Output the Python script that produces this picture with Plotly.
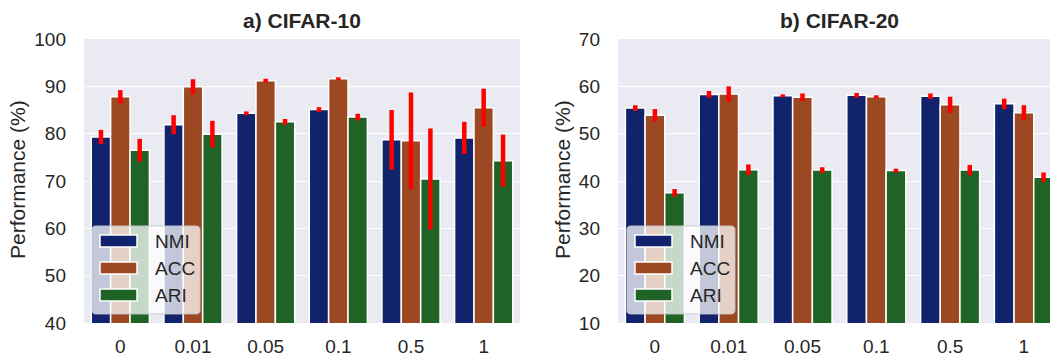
import plotly.graph_objects as go

# ---- data -------------------------------------------------------------
lambdas = ["0", "0.01", "0.05", "0.1", "0.5", "1"]
metrics = ["NMI", "ACC", "ARI"]

c10_nmi = [79.3, 81.9, 84.3, 85.1, 78.7, 79.1]
c10_acc = [87.8, 89.9, 91.2, 91.6, 78.5, 85.5]
c10_ari = [76.5, 79.9, 82.5, 83.5, 70.4, 74.3]
c10_nmi_err = [1.5, 2.0, 0.4, 0.5, 6.3, 3.4]
c10_acc_err = [1.4, 1.6, 0.4, 0.3, 10.2, 4.0]
c10_ari_err = [2.4, 2.8, 0.6, 0.7, 10.7, 5.5]

c20_nmi = [55.4, 58.3, 58.0, 58.1, 57.9, 56.3]
c20_acc = [53.9, 58.4, 57.7, 57.8, 56.1, 54.4]
c20_ari = [37.5, 42.4, 42.3, 42.2, 42.3, 40.8]
c20_nmi_err = [0.6, 0.7, 0.3, 0.5, 0.6, 1.1]
c20_acc_err = [1.3, 1.6, 0.8, 0.3, 1.7, 1.6]
c20_ari_err = [0.8, 1.1, 0.6, 0.4, 1.1, 1.0]

titles = ["a) CIFAR-10", "b) CIFAR-20"]
y_title = "Performance (%)"

# ---- style ------------------------------------------------------------
W, H = 1050, 356
colors = {"NMI": "#12236e", "ACC": "#9c4822", "ARI": "#1f6426"}
TXT = "#262626"
FONT = "Liberation Sans, Arial, sans-serif"
BG = "#eaeaf2"


def px(x):
    return x / W


def py(y):
    return 1 - y / H


fig = go.Figure()

panels = [
    ("x", "y", [c10_nmi, c10_acc, c10_ari], [c10_nmi_err, c10_acc_err, c10_ari_err]),
    ("x2", "y2", [c20_nmi, c20_acc, c20_ari], [c20_nmi_err, c20_acc_err, c20_ari_err]),
]
for xa, ya, vals, errs in panels:
    for name, v, e in zip(metrics, vals, errs):
        fig.add_trace(go.Bar(
            x=lambdas, y=v, name=name, xaxis=xa, yaxis=ya,
            marker=dict(color=colors[name], line=dict(color="white", width=1.5)),
            error_y=dict(type="data", array=e, color="red", thickness=4.5, width=0),
            showlegend=False,
        ))

axis_common = dict(
    type="category", showgrid=False, zeroline=False, showline=False, ticks="",
    automargin=False, tickfont=dict(family=FONT, size=19, color=TXT), ticklabelstandoff=10,
)
yaxis_common = dict(
    showgrid=True, gridcolor="white", gridwidth=1.3, zeroline=False,
    showline=False, ticks="", dtick=10, automargin=False,
    tickfont=dict(family=FONT, size=19, color=TXT), ticklabelstandoff=17,
)

# right panel's category scale runs past the canvas edge
right_end = -0.5 + (W - 618) / 73.8

fig.update_layout(
    template="none",
    width=W, height=H,
    margin=dict(l=0, r=0, t=0, b=0, autoexpand=False),
    paper_bgcolor="white", plot_bgcolor=BG,
    barmode="group", bargap=0.2, bargroupgap=0.0,
    xaxis=dict(domain=[px(84), px(520)], anchor="y", range=[-0.5, 5.5], **axis_common),
    yaxis=dict(domain=[py(323), py(39)], anchor="x", range=[40, 100], **yaxis_common),
    xaxis2=dict(domain=[px(618), 1.0], anchor="y2", range=[-0.5, right_end], **axis_common),
    yaxis2=dict(domain=[py(323), py(39)], anchor="x2", range=[10, 70], **yaxis_common),
    font=dict(family=FONT, color=TXT),
    showlegend=False,
)

# titles and axis labels
for tx, t in zip([302, 839], titles):
    fig.add_annotation(x=px(tx), y=py(21), xref="paper", yref="paper", text=f"<b>{t}</b>",
                       showarrow=False, font=dict(family=FONT, size=21, color=TXT),
                       xanchor="center", yanchor="middle")
for tx in [17, 562]:
    fig.add_annotation(x=px(tx), y=py(180), xref="paper", yref="paper", text=y_title,
                       textangle=-90, showarrow=False,
                       font=dict(family=FONT, size=21, color=TXT),
                       xanchor="center", yanchor="middle")


# legends (one per panel), drawn as a framed box with wide swatches
def rounded_rect(x0, y0, x1, y1, r):
    X = lambda v: f"{px(v):.5f}"
    Y = lambda v: f"{py(v):.5f}"
    return (f"M {X(x0 + r)},{Y(y0)} L {X(x1 - r)},{Y(y0)} Q {X(x1)},{Y(y0)} {X(x1)},{Y(y0 + r)} "
            f"L {X(x1)},{Y(y1 - r)} Q {X(x1)},{Y(y1)} {X(x1 - r)},{Y(y1)} "
            f"L {X(x0 + r)},{Y(y1)} Q {X(x0)},{Y(y1)} {X(x0)},{Y(y1 - r)} "
            f"L {X(x0)},{Y(y0 + r)} Q {X(x0)},{Y(y0)} {X(x0 + r)},{Y(y0)} Z")


for bx, sx, tx in [(92, 100, 153), (627, 635, 688)]:
    fig.add_shape(type="path", xref="paper", yref="paper",
                  path=rounded_rect(bx, 226, bx + 108, 314, 4),
                  fillcolor="rgba(255,255,255,0.75)",
                  line=dict(color="rgba(200,200,210,0.9)", width=1), layer="above")
    for i, name in enumerate(metrics):
        cy = 241 + 27 * i
        fig.add_shape(type="rect", xref="paper", yref="paper",
                      x0=px(sx), x1=px(sx + 37), y0=py(cy + 6), y1=py(cy - 6),
                      fillcolor=colors[name], line=dict(color="white", width=1.5),
                      layer="above")
        fig.add_annotation(x=px(tx), y=py(cy), xref="paper", yref="paper", text=name,
                           showarrow=False, xanchor="left", yanchor="middle",
                           font=dict(family=FONT, size=19, color=TXT))

fig.write_html("out.html")
